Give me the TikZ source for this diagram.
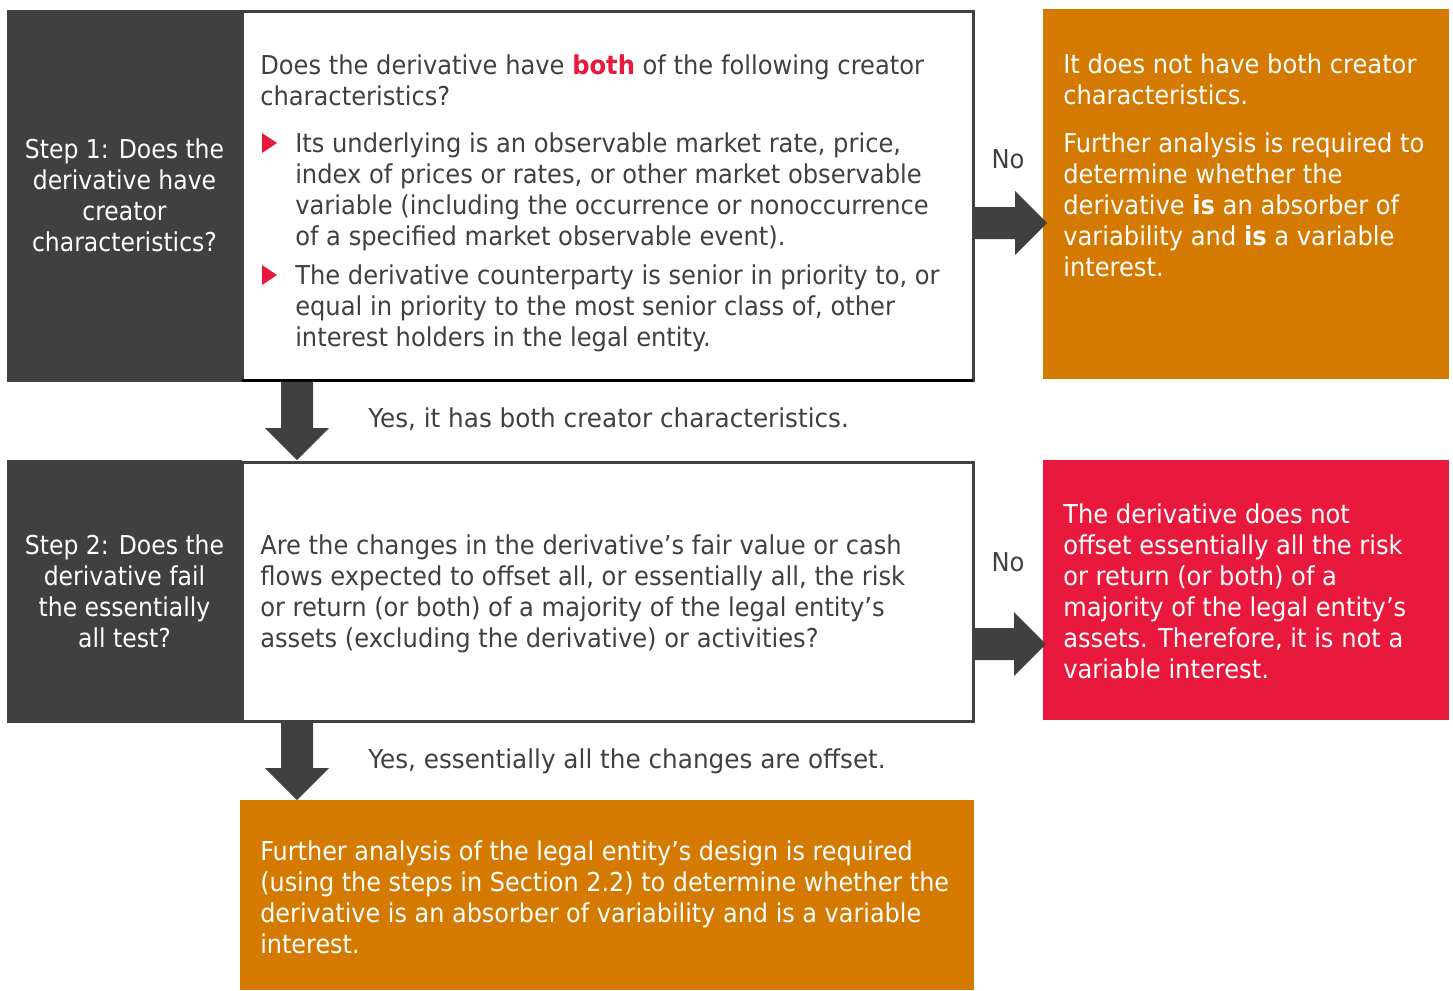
\documentclass[tikz,border=0pt]{standalone}
\usepackage{fontspec}
\setmainfont{DejaVu Sans}[FakeStretch=0.93]
\newfontfamily\yesfont{DejaVu Sans}[FakeStretch=0.95]
\newfontfamily\stepfont{DejaVu Sans}[FakeStretch=0.905]
\newfontfamily\lowfont{DejaVu Sans}[FakeStretch=0.92]
\usetikzlibrary{calc}
\definecolor{dgray}{HTML}{404040}
\definecolor{orng}{HTML}{D47A00}
\definecolor{rred}{HTML}{E8193C}
\newcommand\arrowdown[2]{\fill[dgray] ($(#1)+(-16,0)$) -- ($(#1)+(16,0)$) -- ($(#2)+(16,-32)$) -- ($(#2)+(32,-32)$) -- (#2) -- ($(#2)+(-32,-32)$) -- ($(#2)+(-16,-32)$) -- cycle;}
\newcommand\arrowright[2]{\fill[dgray] ($(#1)+(0,-16)$) -- ($(#2)+(-32,-16)$) -- ($(#2)+(-32,-32)$) -- (#2) -- ($(#2)+(-32,32)$) -- ($(#2)+(-32,16)$) -- ($(#1)+(0,16)$) -- cycle;}
\begin{document}
\begin{tikzpicture}[x=0.75pt,y=-0.75pt,
  box/.style={inner sep=0pt, outer sep=0pt, anchor=north west},
  stepbox/.style={box, fill=dgray},
  qbox/.style={box, fill=white, draw=dgray, line width=2.25pt},
  txt/.style={inner sep=0pt, anchor=base west, align=left, font=\fontsize{19.5pt}{23.25pt}\selectfont},
  dtxt/.style={txt, text=dgray},
  wtxt/.style={txt, text=white},
  yestxt/.style={dtxt, font=\yesfont\fontsize{19.5pt}{23.25pt}\selectfont},
  steptxt/.style={txt, text=white, anchor=base, align=center, font=\stepfont\fontsize{19.5pt}{23.25pt}\selectfont},
  bullet/.style={fill=rred}]
\useasboundingbox (0,0) rectangle (1453,990);
% boxes
\node[qbox, minimum width=548.25pt, minimum height=276.75pt] (w1) at (242,11.5) {};
\draw[black, line width=2.25pt] (w1.south west) -- (w1.south east);
\node[stepbox, minimum width=176.25pt, minimum height=279pt] (s1) at (7,10) {};
\node[box, fill=orng, minimum width=304.5pt, minimum height=277.5pt] (o1) at (1043,9) {};
\node[qbox, minimum width=548.25pt, minimum height=194.625pt] (w2) at (242,462) {};
\node[stepbox, minimum width=176.25pt, minimum height=197.25pt] (s2) at (7,460) {};
\node[box, fill=rred, minimum width=304.5pt, minimum height=195pt] (r2) at (1043,460) {};
\node[box, fill=orng, minimum width=550.5pt, minimum height=142.5pt] (o3) at (240,800) {};
% texts (anchored at the baseline of the last line)
\node[steptxt] (s1t) at (124.5,251) {Step 1: Does the\\derivative have\\creator\\characteristics?};
\node[dtxt] (q1) at (260,105) {Does the derivative have {\color{rred}\bfseries both} of the following creator\\characteristics?};
\fill[bullet] (262,133) -- (262,153) -- (277,143) -- cycle;
\node[dtxt] (q1a) at (295,245) {Its underlying is an observable market rate, price,\\index of prices or rates, or other market observable\\variable (including the occurrence or nonoccurrence\\of a specified market observable event).};
\fill[bullet] (262,265) -- (262,285) -- (277,275) -- cycle;
\node[dtxt] (q1b) at (295,346) {The derivative counterparty is senior in priority to, or\\equal in priority to the most senior class of, other\\interest holders in the legal entity.};
\node[wtxt] (o1a) at (1063,104) {It does not have both creator\\characteristics.};
\node[wtxt] (o1b) at (1063,276) {Further analysis is required to\\determine whether the\\derivative \textbf{is} an absorber of\\variability and \textbf{is} a variable\\interest.};
\node[dtxt, anchor=base] (no1) at (1008,168) {No};
\node[yestxt] (yes1) at (368,427) {Yes, it has both creator characteristics.};
\node[steptxt] (s2t) at (124.5,647) {Step 2: Does the\\derivative fail\\the essentially\\all test?};
\node[dtxt] (q2) at (260,647) {Are the changes in the derivative’s fair value or cash\\flows expected to offset all, or essentially all, the risk\\or return (or both) of a majority of the legal entity’s\\assets (excluding the derivative) or activities?};
\node[wtxt] (r2t) at (1063,678) {The derivative does not\\offset essentially all the risk\\or return (or both) of a\\majority of the legal entity’s\\assets. Therefore, it is not a\\variable interest.};
\node[dtxt, anchor=base] (no2) at (1008,571) {No};
\node[yestxt] (yes2) at (368,768) {Yes, essentially all the changes are offset.};
\node[wtxt, font=\lowfont\fontsize{19.5pt}{23.25pt}\selectfont] (o3t) at (260,953) {Further analysis of the legal entity’s design is required\\(using the steps in Section 2.2) to determine whether the\\derivative is an absorber of variability and is a variable\\interest.};
% arrows
\coordinate (d1s) at ($(s1.south east)+(55,0)$);
\coordinate (d1e) at ($(s2.north east)+(55,0)$);
\arrowdown{d1s}{d1e}
\coordinate (d2s) at ($(s2.south east)+(55,0)$);
\coordinate (d2e) at ($(o3.north west)+(57,0)$);
\arrowdown{d2s}{d2e}
\coordinate (r1s) at ($(w1.east)+(1,27)$);
\coordinate (r1t) at (r1s -| o1.west);
\coordinate (r1e) at ($(r1t)+(4,0)$);
\arrowright{r1s}{r1e}
\coordinate (r2s) at ($(w2.east)+(1,52.25)$);
\coordinate (r2t) at (r2s -| r2.west);
\coordinate (r2e) at ($(r2t)+(3,0)$);
\arrowright{r2s}{r2e}
\end{tikzpicture}
\end{document}
